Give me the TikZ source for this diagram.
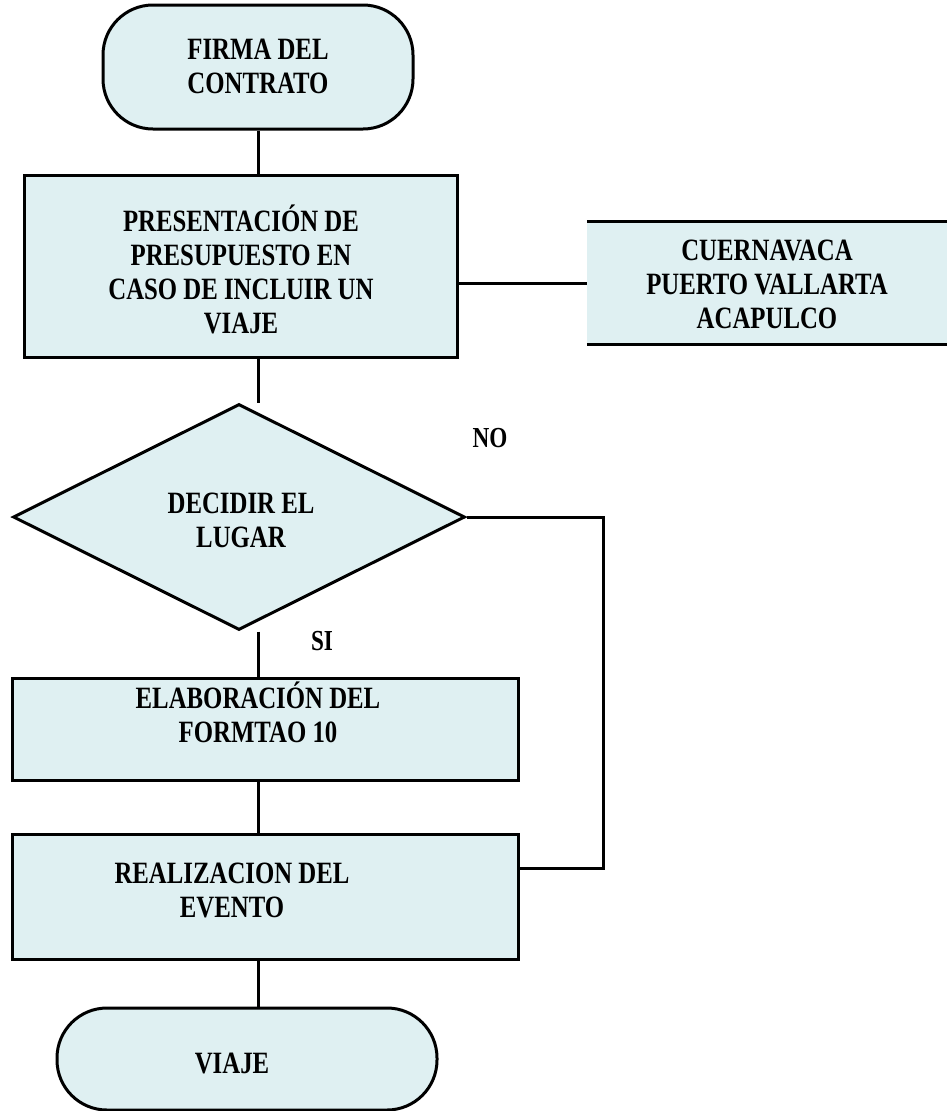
\documentclass[tikz,border=0pt]{standalone}
\usepackage{fontspec}
\setmainfont[FakeStretch=0.8]{Liberation Serif}
\usetikzlibrary{shapes.geometric}
\definecolor{boxfill}{RGB}{223,240,242}
\tikzset{
  every node/.style={font=\bfseries\fontsize{31}{34}\selectfont, align=center, inner sep=0pt},
  box/.style={draw, line width=3pt, fill=boxfill, rectangle},
  terminal/.style={draw, line width=3pt, fill=boxfill, rectangle, rounded corners=50pt},
  decision/.style={draw, line width=3pt, fill=boxfill, diamond},
  link/.style={line width=3pt},
  lbl/.style={font=\bfseries\fontsize{29}{32}\selectfont}
}
\begin{document}
\begin{tikzpicture}[x=1pt, y=-1pt]
\useasboundingbox (0,0) rectangle (947,1111);

% start terminal
\node[terminal, minimum width=310pt, minimum height=124pt] (firma) at (258,67) {};
\node (firmat) at (258,66) {FIRMA DEL\\CONTRATO};

% budget step
\node[box, minimum width=433pt, minimum height=182pt] (pres) at (241,266) {};
\node (prest) at (241,269) {PRESENTACIÓN DE\\PRESUPUESTO EN\\CASO DE INCLUIR UN\\VIAJE};

% destinations (box runs past the right edge)
\node[fill=boxfill, minimum width=380pt, minimum height=122pt] (dest) at (777,283) {};
\draw[link] (dest.north west) -- (dest.north east);
\draw[link] (dest.south west) -- (dest.south east);
\node (destt) at (767,284) {CUERNAVACA\\PUERTO VALLARTA\\ACAPULCO};

% decision
\node[decision, minimum width=452pt, minimum height=226pt] (dec) at (239,517) {};
\node (dect) at (241,520) {DECIDIR EL\\LUGAR};
\node[lbl] (no) at (490,438) {NO};
\node[lbl] (si) at (322,641) {SI};

% form step
\node[box, minimum width=506pt, minimum height=102pt] (elab) at (265,729) {};
\node (elabt) at (258,712) {ELABORACIÓN DEL\\FORMTAO 10};

% event step
\node[box, minimum width=506pt, minimum height=125pt] (real) at (265,897) {};
\node (realt) at (232,890) {REALIZACION DEL\\EVENTO};

% end terminal
\node[terminal, minimum width=380pt, minimum height=102pt] (viaje) at (247,1059) {};
\node (viajet) at (232,1063) {VIAJE};

% connectors
\coordinate (loop) at (603,0);
\draw[link] (firma.south -| 258,0) -- (pres.north -| 258,0);
\draw[link] (pres.south -| 258,0) -- (dec.north -| 258,0);
\draw[link] (pres.east |- dest.west) -- (dest.west);
\draw[link] (dec.south -| 258,0) -- (elab.north -| 258,0);
\draw[link] (elab.south -| 258,0) -- (real.north -| 258,0);
\draw[link] (real.south -| 258,0) -- (viaje.north -| 258,0);
\draw[link] (dec.east) -- (dec.east -| loop) |- (real.east |- 0,868);
\end{tikzpicture}
\end{document}
